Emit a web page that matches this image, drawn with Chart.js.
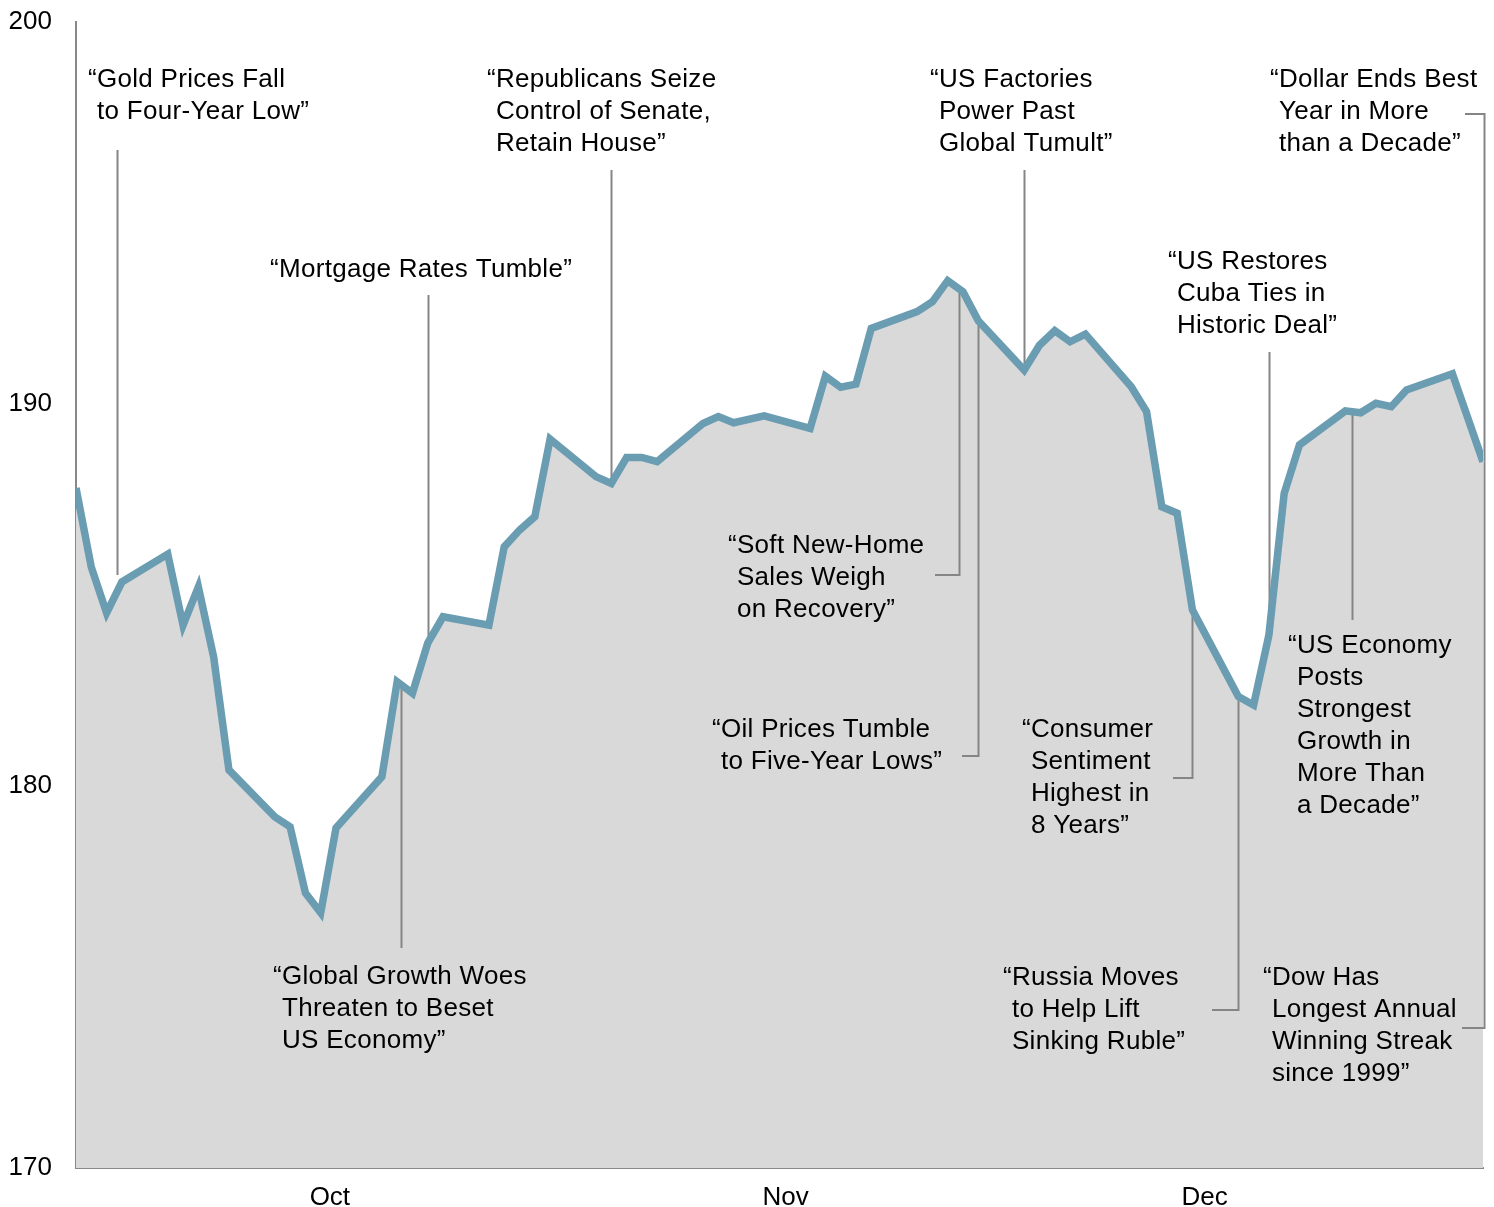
<!DOCTYPE html>
<html>
<head>
<meta charset="utf-8">
<script src="https://cdn.jsdelivr.net/npm/chart.js@4.4.1/dist/chart.umd.min.js"></script>
<style>
  html, body { margin: 0; padding: 0; background: #fff; }
  #wrap { width: 1494px; height: 1207px; }
</style>
</head>
<body>
<div id="wrap"><canvas id="chart" width="1494" height="1207"></canvas></div>
<script>
// daily closes, 30 Sep - 31 Dec 2014 (weekends are gaps)
const dates = [
  '2014-09-30', '2014-10-01', '2014-10-02', '2014-10-03',
  '2014-10-06', '2014-10-07', '2014-10-08', '2014-10-09', '2014-10-10',
  '2014-10-13', '2014-10-14', '2014-10-15', '2014-10-16', '2014-10-17',
  '2014-10-20', '2014-10-21', '2014-10-22', '2014-10-23', '2014-10-24',
  '2014-10-27', '2014-10-28', '2014-10-29', '2014-10-30', '2014-10-31',
  '2014-11-03', '2014-11-04', '2014-11-05', '2014-11-06', '2014-11-07',
  '2014-11-10', '2014-11-11', '2014-11-12', '2014-11-14',
  '2014-11-17', '2014-11-18', '2014-11-19', '2014-11-20', '2014-11-21',
  '2014-11-24', '2014-11-25', '2014-11-26', '2014-11-27', '2014-11-28',
  '2014-12-01', '2014-12-02', '2014-12-03', '2014-12-04', '2014-12-05',
  '2014-12-08', '2014-12-09', '2014-12-10', '2014-12-11', '2014-12-12',
  '2014-12-15', '2014-12-16', '2014-12-17', '2014-12-18', '2014-12-19',
  '2014-12-22', '2014-12-23', '2014-12-24', '2014-12-25', '2014-12-26',
  '2014-12-29', '2014-12-31'
];
const values = [
  187.8, 185.73, 184.53, 185.34,
  186.07, 184.21, 185.21, 183.38, 180.42,
  179.19, 178.93, 177.2, 176.68, 178.9,
  180.24, 182.73, 182.43, 183.74, 184.43,
  184.21, 186.26, 186.7, 187.05, 189.08,
  188.1, 187.92, 188.6, 188.6, 188.49,
  189.49, 189.67, 189.51, 189.69,
  189.36, 190.73, 190.44, 190.52, 191.98,
  192.42, 192.68, 193.23, 192.94, 192.18,
  190.89, 191.54, 191.92, 191.63, 191.83,
  190.45, 189.8, 187.31, 187.14, 184.61,
  182.34, 182.12, 183.95, 187.66, 188.93,
  189.82, 189.77, 190.02, 189.93, 190.37,
  190.79, 188.49
];

const yTicks = [170, 180, 190, 200];
const monthLabels = ['Oct', 'Nov', 'Dec'];
const monthTickDays = [16.6, 46.4, 73.8];

// headlines and the day each one points at
const headlines = [
  ['“Gold Prices Fall', 'to Four-Year Low”'],
  ['“Mortgage Rates Tumble”'],
  ['“Republicans Seize', 'Control of Senate,', 'Retain House”'],
  ['“US Factories', 'Power Past', 'Global Tumult”'],
  ['“Dollar Ends Best', 'Year in More', 'than a Decade”'],
  ['“US Restores', 'Cuba Ties in', 'Historic Deal”'],
  ['“Soft New-Home', 'Sales Weigh', 'on Recovery”'],
  ['“Oil Prices Tumble', 'to Five-Year Lows”'],
  ['“Consumer', 'Sentiment', 'Highest in', '8 Years”'],
  ['“Russia Moves', 'to Help Lift', 'Sinking Ruble”'],
  ['“US Economy', 'Posts', 'Strongest', 'Growth in', 'More Than', 'a Decade”'],
  ['“Dow Has', 'Longest Annual', 'Winning Streak', 'since 1999”'],
  ['“Global Growth Woes', 'Threaten to Beset', 'US Economy”']
];
const headlineDates = [
  '2014-10-03', '2014-10-23', '2014-11-04', '2014-12-01', '2014-12-31',
  '2014-12-17', '2014-11-27', '2014-11-28', '2014-12-12', '2014-12-15',
  '2014-12-22', '2014-12-31', '2014-10-21'
];

// where each label sits and how its leader runs (pixels, days)
const noteLayout = [
  { tx: 88, ty: 80, end: 150, shift: -0.3, gap: 7 },
  { tx: 270, ty: 270, end: 295 },
  { tx: 487, ty: 80, end: 170 },
  { tx: 930, ty: 80, end: 170 },
  { tx: 1270, ty: 80, end: 114, elbow: 1465, shift: 0.05 },
  { tx: 1168, ty: 262, end: 352 },
  { tx: 728, ty: 546, end: 575, elbow: 935, shift: -0.25 },
  { tx: 712, ty: 730, end: 756, elbow: 962 },
  { tx: 1022, ty: 730, end: 778, elbow: 1173 },
  { tx: 1003, ty: 978, end: 1010, elbow: 1212 },
  { tx: 1288, ty: 646, end: 620, shift: 0.45 },
  { tx: 1263, ty: 978, end: 1028, elbow: 1462, shift: 0.05 },
  { tx: 273, ty: 977, end: 948, shift: 0.25 }
];

const FONT = '"Liberation Sans", Arial, Helvetica, sans-serif';
const start = Date.UTC(2014, 8, 30);
function dayOf(s) {
  const p = s.split('-').map(Number);
  return (Date.UTC(p[0], p[1] - 1, p[2]) - start) / 86400000;
}

const points = dates.map((d, i) => ({ x: dayOf(d), y: values[i] }));

const headlinePlugin = {
  id: 'headlines',
  // leaders go over the grey fill but under the line
  beforeDatasetsDraw(chart) {
    const { ctx, scales: { x, y } } = chart;
    ctx.save();
    ctx.strokeStyle = '#858585';
    ctx.lineWidth = 2;
    headlineDates.forEach((d, i) => {
      const lay = noteLayout[i];
      const day = dayOf(d);
      const idx = dates.indexOf(d);
      const px = Math.round(x.getPixelForValue(day + (lay.shift || 0))) + 0.5;
      const py = y.getPixelForValue(values[idx]);
      const dir = lay.end < py ? -1 : 1;
      const tip = py + dir * (lay.gap || 0);
      ctx.beginPath();
      ctx.moveTo(px, tip);
      ctx.lineTo(px, lay.end);
      if (lay.elbow) ctx.lineTo(lay.elbow, lay.end);
      ctx.stroke();
    });
    ctx.restore();
  },
  afterDatasetsDraw(chart) {
    const { ctx } = chart;
    ctx.save();
    ctx.font = '26px ' + FONT;
    ctx.letterSpacing = '0.3px';
    ctx.fillStyle = '#000';
    ctx.textBaseline = 'middle';
    ctx.textAlign = 'left';
    const indent = ctx.measureText('“').width;
    headlines.forEach((lines, i) => {
      const lay = noteLayout[i];
      lines.forEach((t, j) => {
        ctx.fillText(t, lay.tx + (j ? indent : 0), lay.ty + j * 32);
      });
    });
    ctx.restore();
  }
};

new Chart(document.getElementById('chart'), {
  type: 'line',
  data: {
    datasets: [{
      data: points,
      borderColor: '#6a9cb2',
      borderWidth: 7.5,
      backgroundColor: '#d9d9d9',
      fill: 'start',
      pointRadius: 0,
      tension: 0
    }]
  },
  options: {
    responsive: false,
    devicePixelRatio: 1,
    animation: false,
    layout: { padding: { top: 22, right: 11, left: 0, bottom: 0 } },
    plugins: {
      legend: { display: false },
      tooltip: { enabled: false },
      filler: { drawTime: 'beforeDatasetsDraw' }
    },
    scales: {
      x: {
        type: 'linear',
        min: 0,
        max: dayOf(dates[dates.length - 1]),
        z: 1,
        grid: { display: false, drawTicks: false },
        border: { display: true, color: '#888', width: 2 },
        afterBuildTicks: axis => { axis.ticks = monthTickDays.map(v => ({ value: v })); },
        afterFit: axis => {
          axis.height = 39;
          axis.paddingLeft = 0;
          axis.paddingRight = 0;
        },
        ticks: {
          autoSkip: false,
          maxRotation: 0,
          padding: 14,
          color: '#000',
          font: { family: FONT, size: 26 },
          callback: (v, i) => monthLabels[i]
        }
      },
      y: {
        min: 170,
        max: 200,
        z: 1,
        grid: { display: false, drawTicks: false },
        border: { display: true, color: '#888', width: 2 },
        afterBuildTicks: axis => { axis.ticks = yTicks.map(v => ({ value: v })); },
        afterFit: axis => {
          axis.width = 76;
          axis.paddingTop = 0;
          axis.paddingBottom = 0;
        },
        ticks: {
          padding: 24,
          color: '#000',
          font: { family: FONT, size: 26 }
        }
      }
    }
  },
  plugins: [headlinePlugin]
});
</script>
</body>
</html>
